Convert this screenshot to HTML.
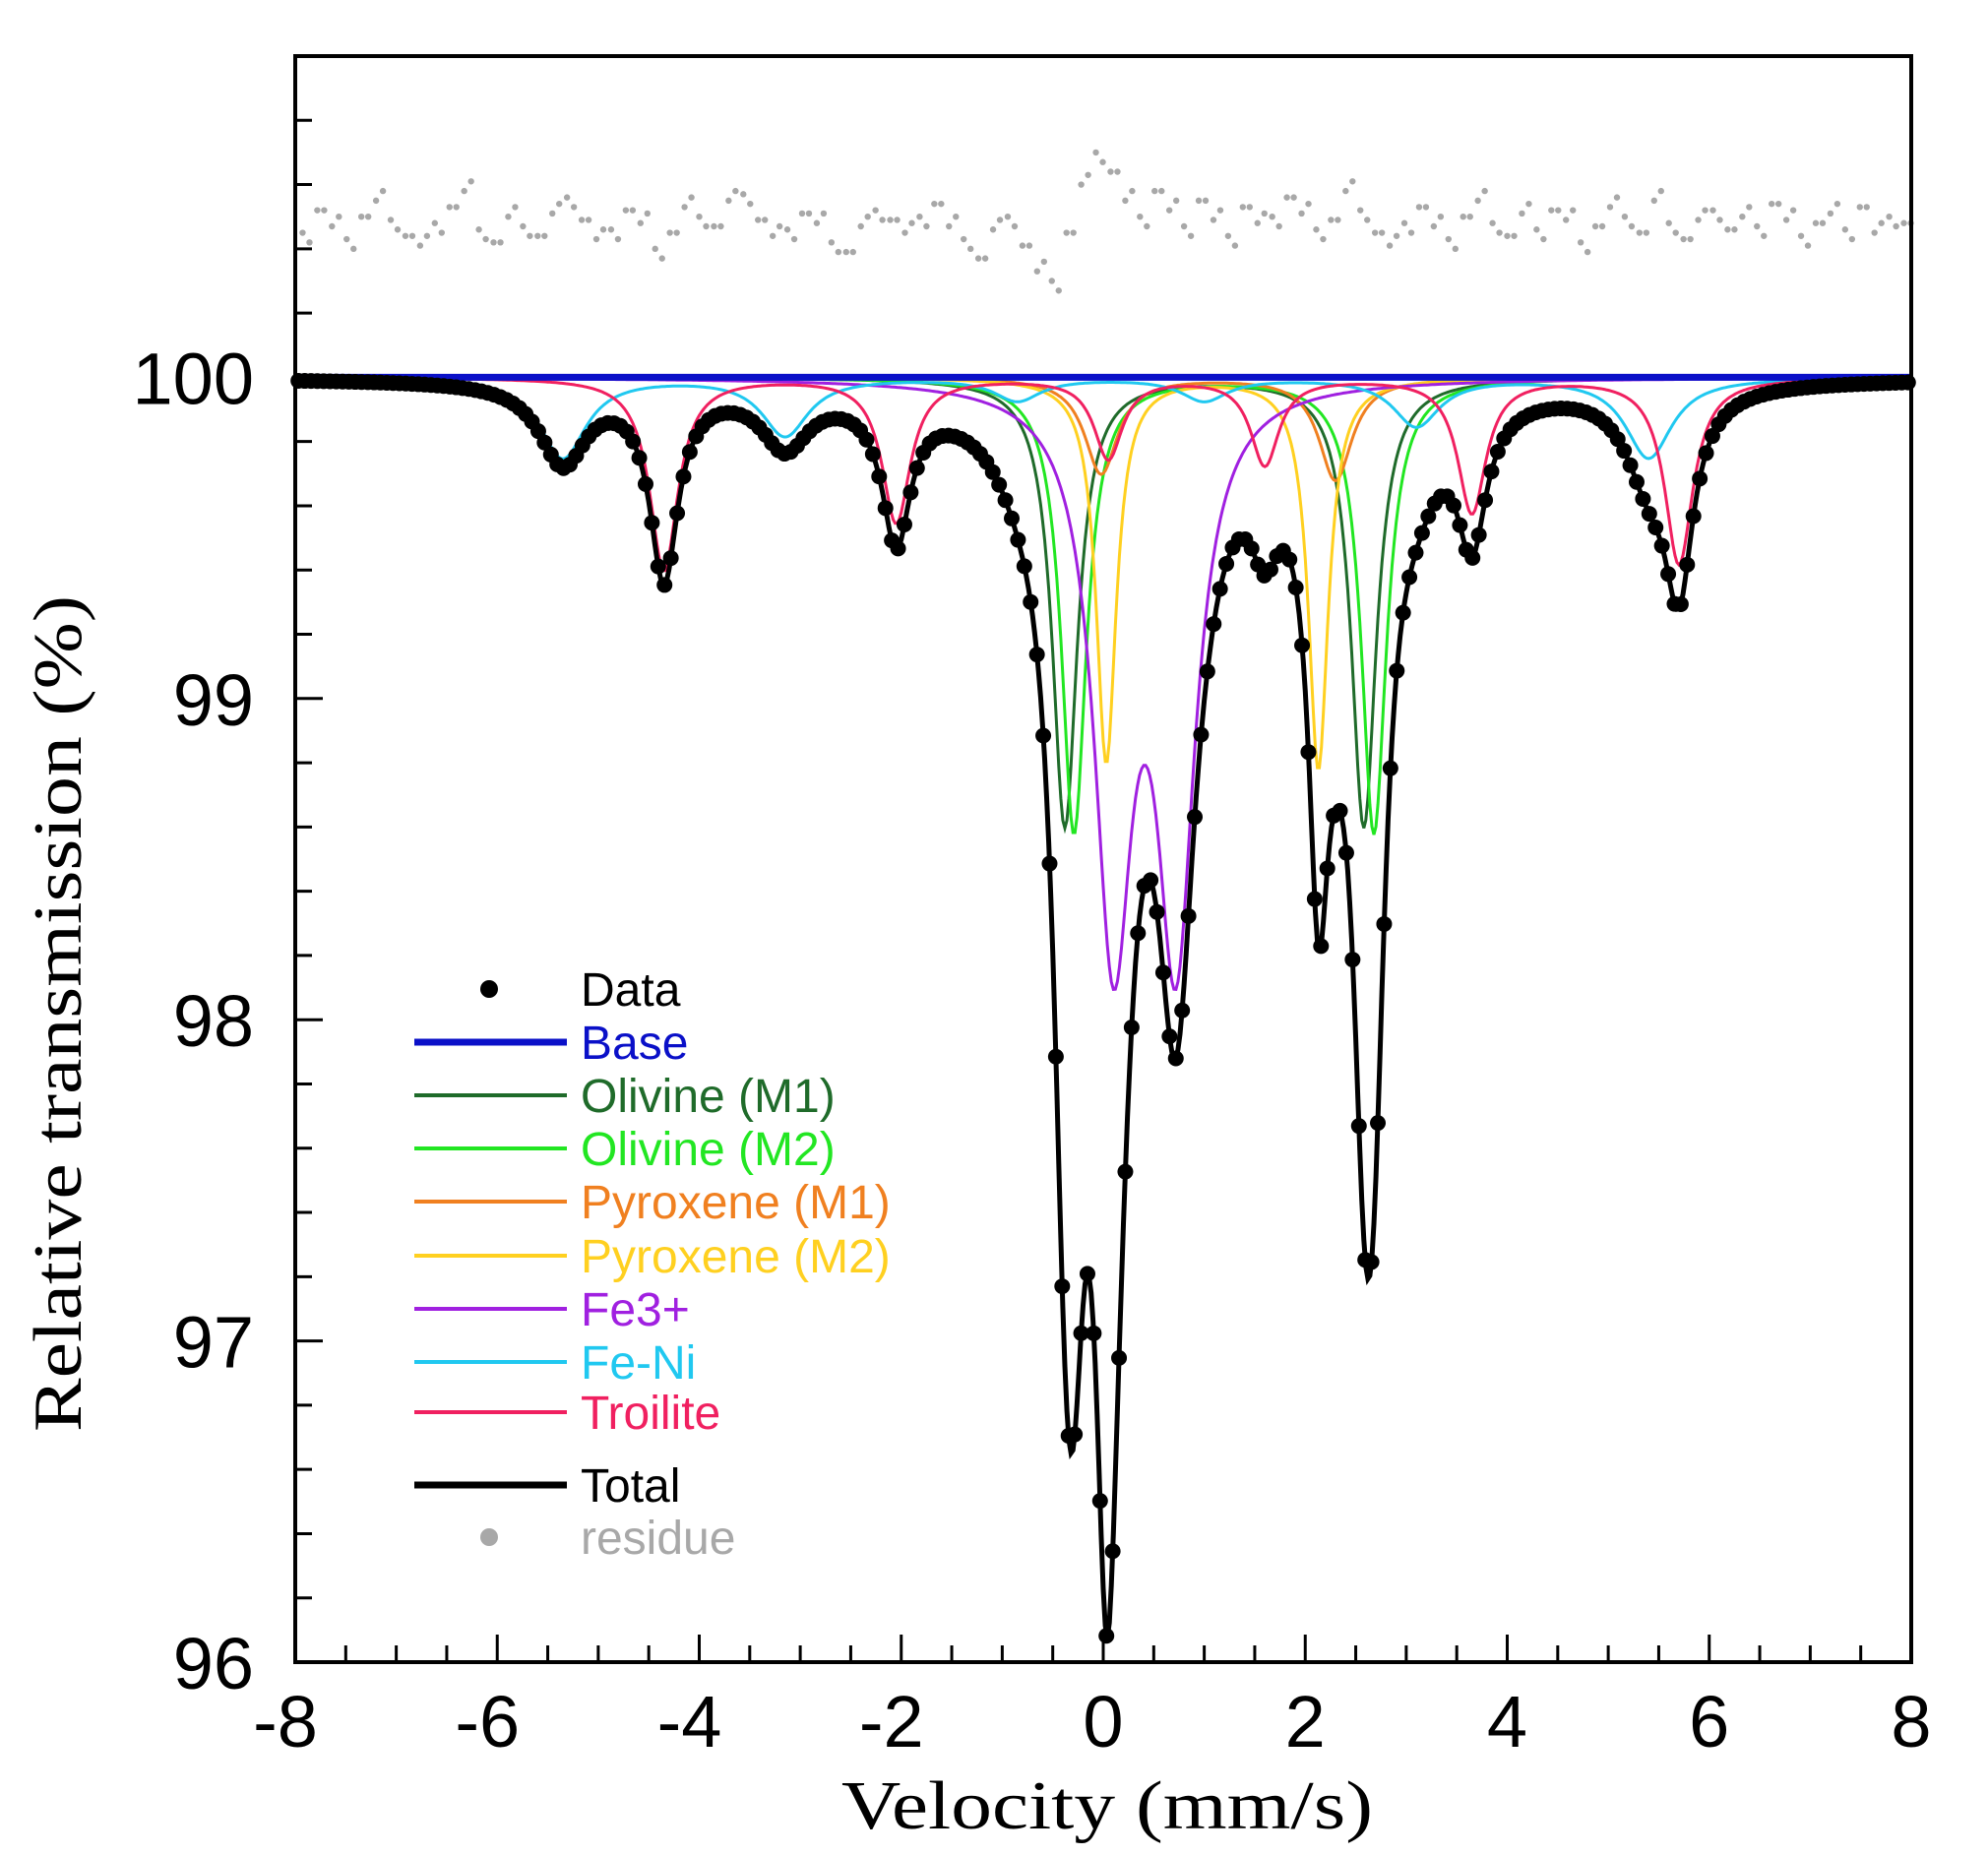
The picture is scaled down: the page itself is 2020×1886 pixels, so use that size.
<!DOCTYPE html>
<html><head><meta charset="utf-8"><title>Mössbauer spectrum</title>
<style>
html,body{margin:0;padding:0;background:#fff;}
svg{display:block;}
text{font-family:"Liberation Sans",sans-serif;}
.serif{font-family:"Liberation Serif",serif;}
</style></head>
<body>
<svg id="chart" width="2020" height="1886" viewBox="0 0 2020 1886" xmlns="http://www.w3.org/2000/svg">
  <rect x="0" y="0" width="2020" height="1886" fill="#fff"/>
  <g id="residue"></g>
  <g id="components"></g>
  <g id="total"></g>
  <g id="axes"></g>
  <text class="serif" x="1125" y="1858" font-size="70" text-anchor="middle" textLength="540" lengthAdjust="spacingAndGlyphs">Velocity (mm/s)</text>
  <text class="serif" transform="translate(82,1030) rotate(-90)" font-size="70" text-anchor="middle" textLength="850" lengthAdjust="spacingAndGlyphs">Relative transmission (%)</text>
  <g id="legend"></g>
</svg>
<script>
// ---- data ----
const xTicks = [-8, -6, -4, -2, 0, 2, 4, 6, 8];
const yTicks = [96, 97, 98, 99, 100];
// component peaks: centers (mm/s), depths (%), half-widths (mm/s)
const olivineM1Centers = [-0.38, 2.58];
const olivineM1Depths = [1.40, 1.40];
const olivineM1Widths = [0.15, 0.15];
const olivineM2Centers = [-0.29, 2.68];
const olivineM2Depths = [1.42, 1.42];
const olivineM2Widths = [0.15, 0.15];
const pyroxeneM1Centers = [-0.02, 2.30];
const pyroxeneM1Depths = [0.30, 0.32];
const pyroxeneM1Widths = [0.2, 0.2];
const pyroxeneM2Centers = [0.03, 2.13];
const pyroxeneM2Depths = [1.20, 1.22];
const pyroxeneM2Widths = [0.12, 0.12];
const fe3Centers = [0.10, 0.72];
const fe3Depths = [1.70, 1.70];
const fe3Widths = [0.23, 0.23];
const feniCenters = [-5.35, -3.15, -0.85, 1.0, 3.1, 5.4];
const feniDepths = [0.25, 0.18, 0.07, 0.07, 0.15, 0.25];
const feniWidths = [0.28, 0.28, 0.28, 0.28, 0.28, 0.28];
const troiliteCenters = [-4.35, -2.05, 0.05, 1.6, 3.65, 5.7];
const troiliteDepths = [0.6, 0.45, 0.25, 0.27, 0.42, 0.58];
const troiliteWidths = [0.17, 0.17, 0.17, 0.17, 0.17, 0.17];
const baseLevel = 100;
const residueValues = [100.45,100.52,100.47,100.43,100.50,100.55,100.49,100.44,100.41,100.48,100.53,100.58,100.46,100.42,100.50,100.47,100.44,100.51,100.56,100.49,
100.43,100.46,100.52,100.48,100.40,100.45,100.53,100.50,100.47,100.55,100.57,100.49,100.44,100.46,100.51,100.48,100.42,100.39,100.47,100.52,
100.49,100.45,100.50,100.54,100.47,100.43,100.37,100.46,100.50,100.41,100.33,100.30,100.45,100.60,100.70,100.64,100.55,100.50,100.58,100.52,
100.47,100.55,100.49,100.44,100.53,100.48,100.50,100.56,100.51,100.46,100.49,100.58,100.52,100.45,100.41,100.48,100.53,100.47,100.43,100.50,
100.55,100.48,100.44,100.51,100.46,100.52,100.49,100.42,100.47,100.53,100.50,100.45,100.55,100.48,100.43,100.49,100.52,100.46,100.50,100.47,
100.54,100.49,100.44,100.48,100.51,100.46,100.53,100.45,100.50,100.48];
// ---- scales ----
const X0 = 300, X1 = 1942, Y0 = 57, Y1 = 1689;
const vMin = -8, vMax = 8, tMin = 96, tMax = 101;
function xs(v){ return X0 + (v - vMin) / (vMax - vMin) * (X1 - X0); }
function ys(t){ return Y1 - (t - tMin) / (tMax - tMin) * (Y1 - Y0); }
const NS = 'http://www.w3.org/2000/svg';
function mk(tag, attrs, parent){ const e = document.createElementNS(NS, tag); for (const k in attrs) e.setAttribute(k, attrs[k]); parent.appendChild(e); return e; }
function lor(v, cs, ds, ws){ let s = 0; for (let i = 0; i < cs.length; i++){ const w = ws[i]; s += ds[i] * w * w / ((v - cs[i]) * (v - cs[i]) + w * w); } return s; }
const comps = [
  {name:'olivine-m1-curve', cs:olivineM1Centers, ds:olivineM1Depths, ws:olivineM1Widths, color:'#1f6b2a', label:'Olivine (M1)'},
  {name:'olivine-m2-curve', cs:olivineM2Centers, ds:olivineM2Depths, ws:olivineM2Widths, color:'#22e622', label:'Olivine (M2)'},
  {name:'pyroxene-m1-curve', cs:pyroxeneM1Centers, ds:pyroxeneM1Depths, ws:pyroxeneM1Widths, color:'#f08020', label:'Pyroxene (M1)'},
  {name:'pyroxene-m2-curve', cs:pyroxeneM2Centers, ds:pyroxeneM2Depths, ws:pyroxeneM2Widths, color:'#ffd020', label:'Pyroxene (M2)'},
  {name:'fe3-curve', cs:fe3Centers, ds:fe3Depths, ws:fe3Widths, color:'#a020e0', label:'Fe3+'},
  {name:'fe-ni-curve', cs:feniCenters, ds:feniDepths, ws:feniWidths, color:'#20c8f0', label:'Fe-Ni'},
  {name:'troilite-curve', cs:troiliteCenters, ds:troiliteDepths, ws:troiliteWidths, color:'#f02060', label:'Troilite'}
];
function total(v){ let s = 0; comps.forEach(c => s += lor(v, c.cs, c.ds, c.ws)); return baseLevel - s; }
// residue
const gRes = document.getElementById('residue');
residueValues.forEach((r, i) => {
  const v = vMin + (i + 0.5) / residueValues.length * (vMax - vMin);
  const c = mk('circle', {cx: xs(v), cy: ys(r), r: 3.2, fill: '#a8a8a8'}, gRes);
  
  
  const c2 = mk('circle', {cx: xs(v) + 7, cy: ys(r + (i % 3 - 1) * 0.03), r: 3.2, fill: '#a8a8a8'}, gRes);
  
  
});
// components
const gC = document.getElementById('components');
const N = 800;
comps.forEach(c => {
  let d = '';
  for (let i = 0; i <= N; i++){ const v = vMin + i / N * (vMax - vMin); d += (i ? 'L' : 'M') + xs(v).toFixed(1) + ' ' + ys(baseLevel - lor(v, c.cs, c.ds, c.ws)).toFixed(1); }
  const p = mk('path', {d: d, fill: 'none', stroke: c.color, 'stroke-width': 3}, gC);
  
  
});
const base = mk('line', {x1: X0, x2: X1, y1: ys(baseLevel), y2: ys(baseLevel), stroke: '#0a10c8', 'stroke-width': 7}, gC);


// total + data
const gT = document.getElementById('total');
let dT = '';
for (let i = 0; i <= N; i++){ const v = vMin + i / N * (vMax - vMin); dT += (i ? 'L' : 'M') + xs(v).toFixed(1) + ' ' + ys(total(v)).toFixed(1); }
const tp = mk('path', {d: dT, fill: 'none', stroke: '#000', 'stroke-width': 5}, gT);


for (let i = 0; i < 256; i++){
  const v = vMin + (i + 0.5) / 256 * (vMax - vMin);
  const c = mk('circle', {cx: xs(v), cy: ys(total(v)), r: 8, fill: '#000'}, gT);
  
  
}
// axes
const gA = document.getElementById('axes');
const frame = mk('rect', {x: X0, y: Y0, width: X1 - X0, height: Y1 - Y0, fill: 'none', stroke: '#000', 'stroke-width': 4}, gA);


for (let t = tMin; t <= tMax + 1e-6; t += 0.2){
  const major = Math.abs(t - Math.round(t)) < 1e-6;
  const l = mk('line', {x1: X0, x2: X0 + (major ? 28 : 17), y1: ys(t), y2: ys(t), stroke: '#000', 'stroke-width': 3}, gA);
  
  
}
for (let v = vMin; v <= vMax + 1e-6; v += 0.5){
  const major = Math.abs(v / 2 - Math.round(v / 2)) < 1e-6;
  const l = mk('line', {x1: xs(v), x2: xs(v), y1: Y1, y2: Y1 - (major ? 28 : 17), stroke: '#000', 'stroke-width': 3}, gA);
  
  
}
yTicks.forEach(t => {
  const tx = mk('text', {x: 258, y: ys(t) + 27, 'font-size': 74, 'text-anchor': 'end'}, gA);
  tx.textContent = String(t);
  
  
});
xTicks.forEach(v => {
  const tx = mk('text', {x: xs(v) - (v < 0 ? 10 : 0), y: 1775, 'font-size': 74, 'text-anchor': 'middle'}, gA);
  tx.textContent = String(v);
  
  
});
// legend
const gL = document.getElementById('legend');
const legendItems = [
  {label:'Data', color:'#000', kind:'dot', y:1005},
  {label:'Base', color:'#0a10c8', kind:'line', w:7, y:1059},
  {label:comps[0].label, color:comps[0].color, kind:'line', w:4, y:1113},
  {label:comps[1].label, color:comps[1].color, kind:'line', w:4, y:1167},
  {label:comps[2].label, color:comps[2].color, kind:'line', w:4, y:1221},
  {label:comps[3].label, color:comps[3].color, kind:'line', w:4, y:1276},
  {label:comps[4].label, color:comps[4].color, kind:'line', w:4, y:1330},
  {label:comps[5].label, color:comps[5].color, kind:'line', w:4, y:1384},
  {label:comps[6].label, color:comps[6].color, kind:'line', w:4, y:1435},
  {label:'Total', color:'#000', kind:'line', w:7, y:1509},
  {label:'residue', color:'#a8a8a8', kind:'dot', y:1562}
];
legendItems.forEach(it => {
  if (it.kind === 'dot'){
    const c = mk('circle', {cx: 497, cy: it.y, r: 9, fill: it.color}, gL);
    
    
  } else {
    const l = mk('line', {x1: 421, x2: 576, y1: it.y, y2: it.y, stroke: it.color, 'stroke-width': it.w}, gL);
    
    
  }
  const tx = mk('text', {x: 590, y: it.y + 17, 'font-size': 48, fill: it.color}, gL);
  tx.textContent = it.label;
  
  
});
</script>
</body></html>
